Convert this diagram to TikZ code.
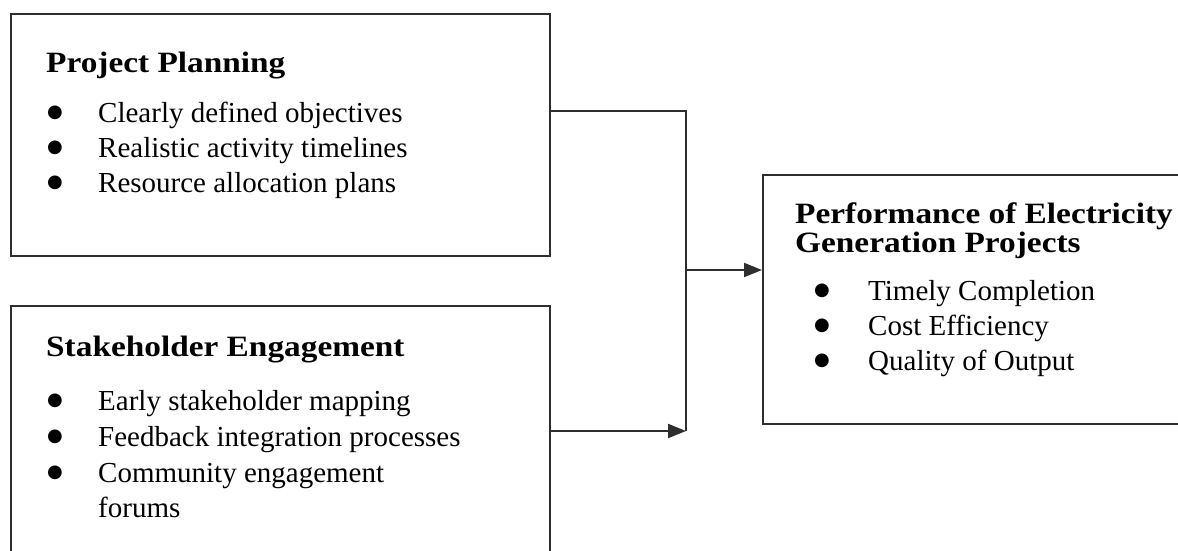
\documentclass[tikz,border=0pt]{standalone}
\usepackage{fontspec}
\setmainfont{Liberation Serif}
\newfontfamily\headfont{Liberation Serif}[FakeStretch=1.13]
\newfontfamily\dotfont{DejaVu Sans}
\usetikzlibrary{arrows.meta, positioning}

\definecolor{linegray}{HTML}{2E2E2E}
\newcommand{\bul}[1]{\makebox[#1][l]{\raisebox{4.5pt}{\dotfont\fontsize{18}{18}\selectfont ●}}}

\begin{document}
\begin{tikzpicture}[
        x=1pt, y=-1pt,
        >={Triangle[length=18pt, width=14pt]},
        box/.style={draw=linegray, line width=2pt, rectangle, anchor=north west, inner sep=0pt},
        conn/.style={draw=linegray, line width=2pt},
        head/.style={anchor=base west, inner sep=0pt, font=\headfont\fontsize{29.5}{29}\selectfont\bfseries},
        item/.style={anchor=base west, inner sep=0pt, font=\fontsize{29}{35}\selectfont}
    ]
        \useasboundingbox[fill=white] (0,0) rectangle (1178,551);

        % Boxes
        \node [box, minimum width=539pt, minimum height=242pt] (plan) at (10,13) {};
        \node [box, minimum width=539pt, minimum height=300pt] (stake) at (10,305) {};
        \node [box, minimum width=460pt, minimum height=249pt] (perf) at (762,174) {};

        % Project planning
        \node [head] (plan-h) at (46,73) {Project Planning};
        \foreach \t [count=\i] in {Clearly defined objectives, Realistic activity timelines, Resource allocation plans}
            \node [item] (plan-\i) at (47,{87+35*\i}) {\bul{51pt}\t};

        % Stakeholder engagement
        \node [head] (stake-h) at (46,356) {Stakeholder Engagement};
        \foreach \t [count=\i] in {Early stakeholder mapping, Feedback integration processes}
            \node [item] (stake-\i) at (47,{374+36*\i}) {\bul{51pt}\t};
        \node [item] (stake-3) at (47,482) {\bul{51pt}\parbox[t]{400pt}{Community engagement\\forums}};

        % Performance
        \node [head] (perf-h1) at (795,223) {Performance of Electricity};
        \node [head] (perf-h2) at (795,252) {Generation Projects};
        \foreach \t [count=\i] in {Timely Completion, Cost Efficiency, Quality of Output}
            \node [item] (perf-\i) at (814,{265+35*\i}) {\bul{54pt}\t};

        % Connections
        \coordinate (join) at (686,431);
        \coordinate (mid) at (686,270);
        \draw [conn] ([yshift=24pt]plan.east) -| (join);
        \draw [conn, ->] (stake.east |- join) -- (join);
        \draw [conn, ->] (mid) -- (mid -| perf.west);
    \end{tikzpicture}
\end{document}
